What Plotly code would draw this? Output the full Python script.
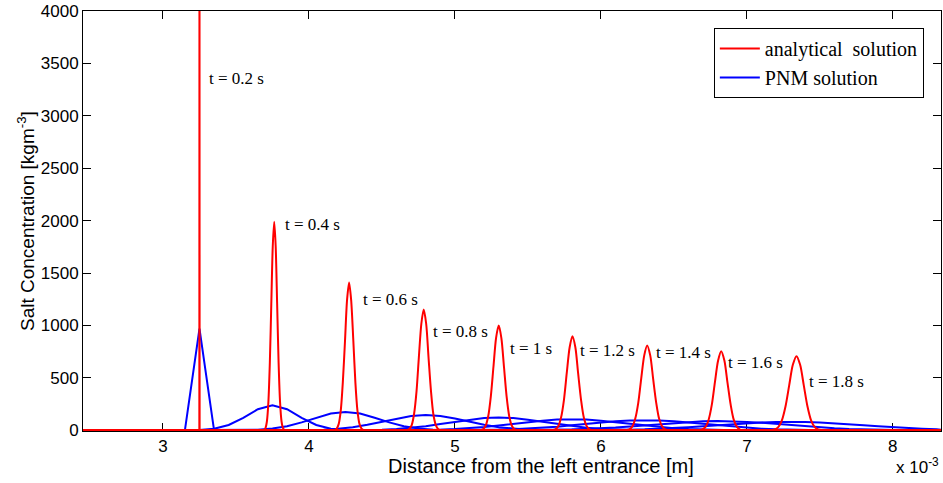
import plotly.graph_objects as go

# ---------------- data (x in units of 1e-3 m, concentration in kg m^-3) ----------------
times = ["0.2", "0.4", "0.6", "0.8", "1", "1.2", "1.4", "1.6", "1.8"]

analytical_x = [
    [3.249, 3.250, 3.251],
    [3.692, 3.702, 3.712, 3.722, 3.732, 3.742, 3.752, 3.762, 3.772, 3.782, 3.792, 3.802, 3.812, 3.822, 3.832],
    [4.175, 4.190, 4.204, 4.218, 4.232, 4.247, 4.261, 4.275, 4.289, 4.304, 4.318, 4.332, 4.346, 4.360, 4.375],
    [4.671, 4.687, 4.704, 4.720, 4.737, 4.753, 4.770, 4.786, 4.803, 4.819, 4.836, 4.852, 4.869, 4.885, 4.902],
    [5.174, 5.192, 5.210, 5.228, 5.246, 5.264, 5.282, 5.300, 5.318, 5.336, 5.354, 5.372, 5.390, 5.408, 5.426],
    [5.668, 5.688, 5.708, 5.727, 5.747, 5.766, 5.786, 5.805, 5.825, 5.844, 5.864, 5.883, 5.903, 5.922, 5.942],
    [6.173, 6.194, 6.215, 6.235, 6.256, 6.276, 6.297, 6.317, 6.338, 6.358, 6.379, 6.399, 6.420, 6.440, 6.461],
    [6.673, 6.695, 6.717, 6.738, 6.760, 6.781, 6.803, 6.824, 6.846, 6.867, 6.889, 6.910, 6.932, 6.953, 6.975],
    [7.165, 7.190, 7.215, 7.240, 7.265, 7.290, 7.315, 7.340, 7.365, 7.390, 7.415, 7.440, 7.465, 7.490, 7.515],
]
analytical_y = [
    [0, 6000, 0],
    [4, 22, 87, 269, 646, 1207, 1756, 1990, 1756, 1207, 646, 269, 87, 22, 4],
    [3, 16, 62, 191, 458, 855, 1244, 1410, 1244, 855, 458, 191, 62, 16, 3],
    [3, 13, 51, 156, 374, 699, 1017, 1152, 1017, 699, 374, 156, 51, 13, 3],
    [2, 11, 44, 135, 325, 607, 883, 1000, 883, 607, 325, 135, 44, 11, 2],
    [2, 10, 39, 122, 292, 545, 793, 898, 793, 545, 292, 122, 39, 10, 2],
    [2, 9, 36, 110, 263, 491, 715, 810, 715, 491, 263, 110, 36, 9, 2],
    [2, 8, 33, 102, 245, 458, 666, 755, 666, 458, 245, 102, 33, 8, 2],
    [2, 8, 31, 96, 230, 429, 625, 708, 625, 429, 230, 96, 31, 8, 2],
]

pnm_x = [
    [3.15, 3.25, 3.35],
    [3.15, 3.25, 3.35, 3.45, 3.55, 3.65, 3.75, 3.85, 3.95, 4.05, 4.15, 4.25, 4.35],
    [3.45, 3.55, 3.65, 3.75, 3.85, 3.95, 4.05, 4.15, 4.25, 4.35, 4.45, 4.55, 4.65, 4.75, 4.85, 4.95, 5.05],
    [3.8, 3.9, 4.0, 4.1, 4.2, 4.3, 4.4, 4.5, 4.6, 4.7, 4.8, 4.9, 5.0, 5.1, 5.2, 5.3, 5.4, 5.5, 5.6, 5.7, 5.8],
    [4.1, 4.2, 4.3, 4.4, 4.5, 4.6, 4.7, 4.8, 4.9, 5.0, 5.1, 5.2, 5.3, 5.4, 5.5, 5.6, 5.7, 5.8, 5.9, 6.0,
     6.1, 6.2, 6.3, 6.4, 6.5],
    [4.5, 4.6, 4.7, 4.8, 4.9, 5.0, 5.1, 5.2, 5.3, 5.4, 5.5, 5.6, 5.7, 5.8, 5.9, 6.0, 6.1, 6.2, 6.3, 6.4,
     6.5, 6.6, 6.7, 6.8, 6.9, 7.0, 7.1],
    [4.9, 5.0, 5.1, 5.2, 5.3, 5.4, 5.5, 5.6, 5.7, 5.8, 5.9, 6.0, 6.1, 6.2, 6.3, 6.4, 6.5, 6.6, 6.7, 6.8,
     6.9, 7.0, 7.1, 7.2, 7.3, 7.4, 7.5, 7.6, 7.7],
    [5.3, 5.4, 5.5, 5.6, 5.7, 5.8, 5.9, 6.0, 6.1, 6.2, 6.3, 6.4, 6.5, 6.6, 6.7, 6.8, 6.9, 7.0, 7.1, 7.2,
     7.3, 7.4, 7.5, 7.6, 7.7, 7.8, 7.9, 8.0, 8.1, 8.2, 8.3],
    [5.8, 5.9, 6.0, 6.1, 6.2, 6.3, 6.4, 6.5, 6.6, 6.7, 6.8, 6.9, 7.0, 7.1, 7.2, 7.3, 7.4, 7.5, 7.6, 7.7,
     7.8, 7.9, 8.0, 8.1, 8.2, 8.3],
]
pnm_y = [
    [0, 970, 0],
    [0, 3, 15, 51, 120, 202, 240, 202, 120, 51, 15, 3, 0],
    [0, 2, 6, 18, 40, 76, 121, 160, 175, 160, 121, 76, 40, 18, 6, 2, 0],
    [0, 1, 2.5, 6, 15, 30, 53, 82, 113, 137, 146, 137, 113, 82, 53, 30, 15, 6, 2.5, 1, 0],
    [0, 0.5, 1.4, 3, 7, 14, 24, 40, 60, 81, 102, 117, 122, 117, 102, 81, 60, 40, 24, 14, 7, 3, 1.4, 0.5, 0],
    [0, 0.8, 1.8, 3.6, 7, 12, 20, 31.5, 46, 62, 78, 92.6, 102.5, 106, 102.5, 92.6, 78, 62, 46, 31.5, 20, 12,
     7, 3.6, 1.8, 0.8, 0],
    [0, 0.8, 1.6, 3.1, 5.7, 10, 16, 24, 35, 48, 62, 75, 87, 94, 97, 94, 87, 75, 62, 48, 35, 24, 16, 10, 5.7,
     3.1, 1.6, 0.8, 0],
    [0, 0.8, 1.6, 3, 5.1, 8.4, 13, 20, 28, 38, 49, 61, 72, 81, 87, 89, 87, 81, 72, 61, 49, 38, 28, 20, 13,
     8.4, 5.1, 3, 1.6, 0.8, 0],
    [0, 1.4, 2.5, 4, 6.6, 10, 15, 22, 30, 39, 49, 59.5, 69, 76, 81, 83, 81, 76, 69, 59.5, 49, 39, 30, 22,
     15, 10],
]

# domain ends (zero concentration outside the pulses)
analytical_domain = [2.40, 8.40]
pnm_domain = [2.90, 8.40]

# label anchor points for the time annotations
label_x = [3.30, 3.82, 4.354, 4.836, 5.361, 5.845, 6.363, 6.856, 7.409]
label_y = [3352, 1962, 1248, 946, 778, 765, 746, 651, 470]

x_ticks = [3, 4, 5, 6, 7, 8]
y_ticks = [0, 500, 1000, 1500, 2000, 2500, 3000, 3500, 4000]

RED = "rgb(255,0,0)"
BLUE = "rgb(0,0,255)"
SANS = "Liberation Sans, Arial, sans-serif"
SERIF = "Liberation Serif, Times New Roman, serif"

fig = go.Figure()

for i in range(len(times)):
    fig.add_trace(go.Scatter(
        x=[pnm_domain[0]] + pnm_x[i] + [pnm_domain[1]],
        y=[0] + pnm_y[i] + [0],
        mode="lines", line=dict(color=BLUE, width=2),
        name="PNM solution", legendgroup="pnm", showlegend=(i == 0), legendrank=2,
        hoverinfo="skip"))

for i in range(len(times)):
    # the outer zero-padding is drawn linearly, the pulse itself smoothly
    fig.add_trace(go.Scatter(
        x=analytical_x[i], y=analytical_y[i],
        mode="lines", line=dict(color=RED, width=2, shape="spline" if i > 0 else "linear", smoothing=0.8),
        name="analytical\u00a0 solution", legendgroup="ana", showlegend=(i == 0), legendrank=1,
        hoverinfo="skip"))
    fig.add_trace(go.Scatter(
        x=[analytical_domain[0], analytical_x[i][0], None, analytical_x[i][-1], analytical_domain[1]],
        y=[0, analytical_y[i][0], None, analytical_y[i][-1], 0],
        mode="lines", line=dict(color=RED, width=2),
        legendgroup="ana", showlegend=False, hoverinfo="skip"))

annotations = []
for t, lx, ly in zip(times, label_x, label_y):
    annotations.append(dict(x=lx, y=ly, xref="x", yref="y", text=f"t = {t} s", showarrow=False,
                            xanchor="left", yanchor="middle",
                            font=dict(family=SERIF, size=17, color="black")))

annotations.append(dict(x=5.589, y=-0.083, xref="x", yref="paper",
                        text="Distance from the left entrance [m]", showarrow=False,
                        xanchor="center", yanchor="middle",
                        font=dict(family=SANS, size=20, color="black")))
annotations.append(dict(x=-0.0664, y=0.5, xref="paper", yref="paper",
                        text="Salt Concentration [kgm<sup>-3</sup>]", showarrow=False, textangle=-90,
                        xanchor="center", yanchor="middle",
                        font=dict(family=SANS, size=19, color="black")))
annotations.append(dict(x=1.0, y=-0.083, xref="paper", yref="paper",
                        text="x 10<sup>-3</sup>", showarrow=False,
                        xanchor="right", yanchor="middle",
                        font=dict(family=SANS, size=17, color="black")))

axis_common = dict(showline=True, linecolor="black", linewidth=1, mirror="ticks",
                   ticks="inside", ticklen=8, tickcolor="black", tickwidth=1,
                   showgrid=False, zeroline=False, layer="below traces",
                   tickfont=dict(family=SANS, size=17, color="black"))

fig.update_layout(
    width=943, height=483, autosize=False,
    margin=dict(l=83, r=2, t=11, b=52),
    paper_bgcolor="white", plot_bgcolor="white",
    xaxis=dict(range=[2.452, 8.33], tickvals=x_ticks, ticktext=[str(v) for v in x_ticks], **axis_common),
    yaxis=dict(range=[-6, 4000], tickvals=y_ticks, ticktext=[str(v) for v in y_ticks], **axis_common),
    legend=dict(x=0.980, y=0.9595, xanchor="right", yanchor="top",
                bgcolor="white", bordercolor="black", borderwidth=1,
                font=dict(family=SERIF, size=20, color="black"),
                tracegroupgap=0, itemwidth=40),
    annotations=annotations,
    showlegend=True,
)

fig.write_html("out.html")
